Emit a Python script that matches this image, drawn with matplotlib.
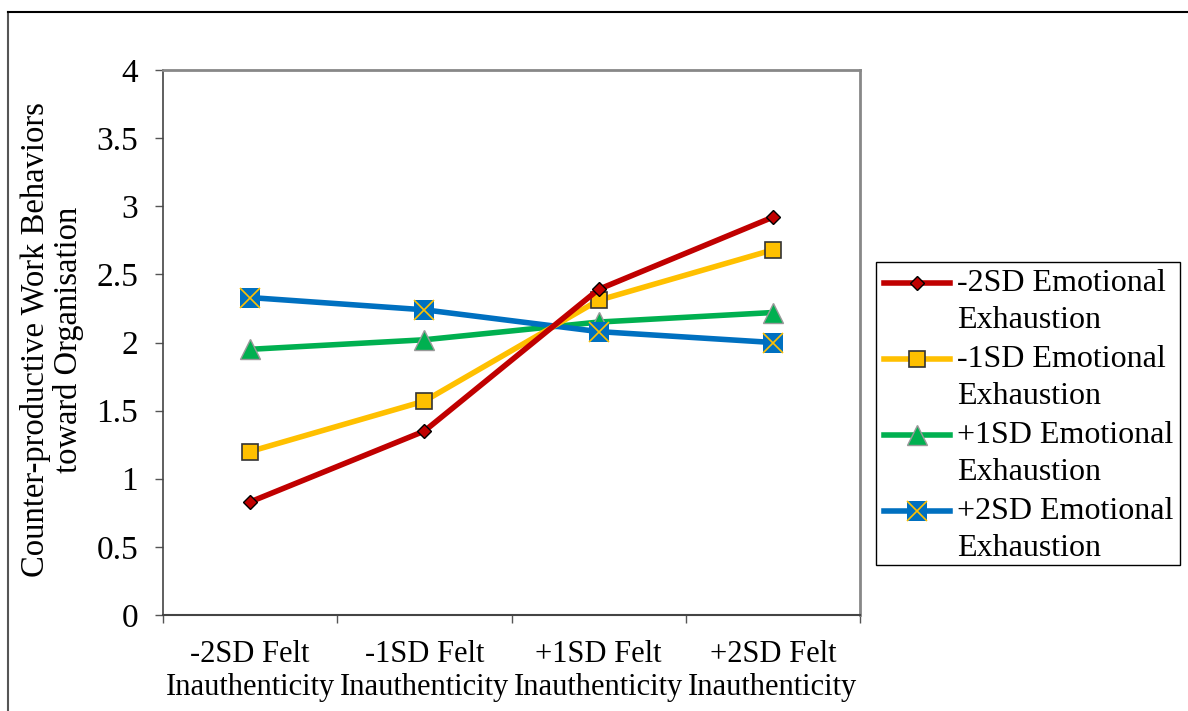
import matplotlib
matplotlib.use("Agg")
import matplotlib.pyplot as plt
from matplotlib.lines import Line2D
from matplotlib.patches import Rectangle

plt.rcParams['font.family'] = ['Liberation Serif', 'DejaVu Serif']

# x categories and the four moderator lines
categories = ["-2SD Felt\nInauthenticity", "-1SD Felt\nInauthenticity",
              "+1SD Felt\nInauthenticity", "+2SD Felt\nInauthenticity"]
series_names = ["-2SD Emotional\nExhaustion", "-1SD Emotional\nExhaustion",
                "+1SD Emotional\nExhaustion", "+2SD Emotional\nExhaustion"]
minus2sd = [0.83, 1.35, 2.39, 2.92]
minus1sd = [1.20, 1.57, 2.31, 2.68]
plus1sd = [1.95, 2.02, 2.15, 2.22]
plus2sd = [2.33, 2.24, 2.08, 2.00]
yticks = [0, 0.5, 1, 1.5, 2, 2.5, 3, 3.5, 4]
ytick_labels = ["0", "0.5", "1", "1.5", "2", "2.5", "3", "3.5", "4"]

W, H = 1188, 711
fig = plt.figure(figsize=(W / 100, H / 100), dpi=100)
ax = fig.add_axes([163/W, 1 - 615/H, (860-163)/W, (615-70)/H])

lw = 4
styles = [
    dict(color="#C00000", marker="D", ms=7, mfc="#C00000", mec="black", mew=1),
    dict(color="#FFC000", marker="s", ms=11, mfc="#FFC000", mec="#333333", mew=1.2),
    dict(color="#00B050", marker="^", ms=15, mfc="#00B050", mec="#999999", mew=1),
    dict(color="#0070C0", marker="s", ms=15, mfc="#0070C0", mec="#0070C0", mew=0),
]
cross = dict(ls="none", marker="x", ms=14, mec="#FFC000", mew=1.2)

x = [0.5, 1.5, 2.5, 3.5]
all_series = [minus2sd, minus1sd, plus1sd, plus2sd]
zorders = [5, 4, 3, 3]
for vals, st, z in zip(all_series, styles, zorders):
    ax.plot(x, vals, lw=lw, zorder=z, **st)
ax.plot(x, plus2sd, zorder=3.5, **cross)

ax.set_xlim(0, 4)
ax.set_ylim(0, 4)
ax.set_yticks(yticks)
ax.set_yticklabels(ytick_labels)
ax.set_xticks([0, 1, 2, 3, 4])
ax.set_xticklabels([])
ax.set_xticks(x, minor=True)
ax.set_xticklabels(categories, minor=True, linespacing=1.2)
ax.tick_params(axis="x", which="minor", length=0, pad=18, labelsize=22)
ax.tick_params(axis="x", which="major", direction="out", length=6, width=1,
               color="#555555")
ax.tick_params(axis="y", direction="out", length=6, width=1, labelsize=24,
               pad=12, color="#555555")

for side in ["top", "right"]:
    ax.spines[side].set_color("#888888")
    ax.spines[side].set_linewidth(2)
ax.spines["left"].set_color("#444444")
ax.spines["bottom"].set_color("#444444")
ax.spines["left"].set_linewidth(1.2)
ax.spines["bottom"].set_linewidth(1.5)

fig.text(52/W, 1 - 340/H, "Counter-productive Work Behaviors\ntoward Organisation",
         fontsize=23.5, rotation=90, ha="center", va="center",
         multialignment="center", linespacing=1.05)

# legend drawn by hand: handle beside the first line of each two-line label
fig.add_artist(Rectangle((876/W, 1 - 565/H), (1180-876)/W, (565-262)/H,
                         transform=fig.transFigure, fill=False,
                         edgecolor="black", lw=1))
row_y = [283, 359, 435, 511]
for name, st, yy in zip(series_names, styles, row_y):
    yf = 1 - yy/H
    fig.add_artist(Line2D([884/W, 950/W], [yf, yf], lw=lw, color=st["color"],
                          transform=fig.transFigure))
    fig.add_artist(Line2D([917/W], [yf], ls="none",
                          transform=fig.transFigure, color=st["color"],
                          marker=st["marker"], ms=st["ms"], mfc=st["mfc"],
                          mec=st["mec"], mew=st["mew"]))
    fig.text(957/W, 1 - (yy + 19)/H, name, fontsize=23, ha="left", va="center",
             linespacing=1.35)
yf = 1 - row_y[3]/H
fig.add_artist(Line2D([917/W], [yf], transform=fig.transFigure, **cross))

# outer chart border
fig.add_artist(Line2D([8/W, 8/W], [0, 1 - 12/H], color="#555555", lw=1.5,
                      transform=fig.transFigure))
fig.add_artist(Line2D([8/W, 1], [1 - 12/H, 1 - 12/H], color="black", lw=1.5,
                      transform=fig.transFigure))

fig.savefig("out.png", dpi=100)
